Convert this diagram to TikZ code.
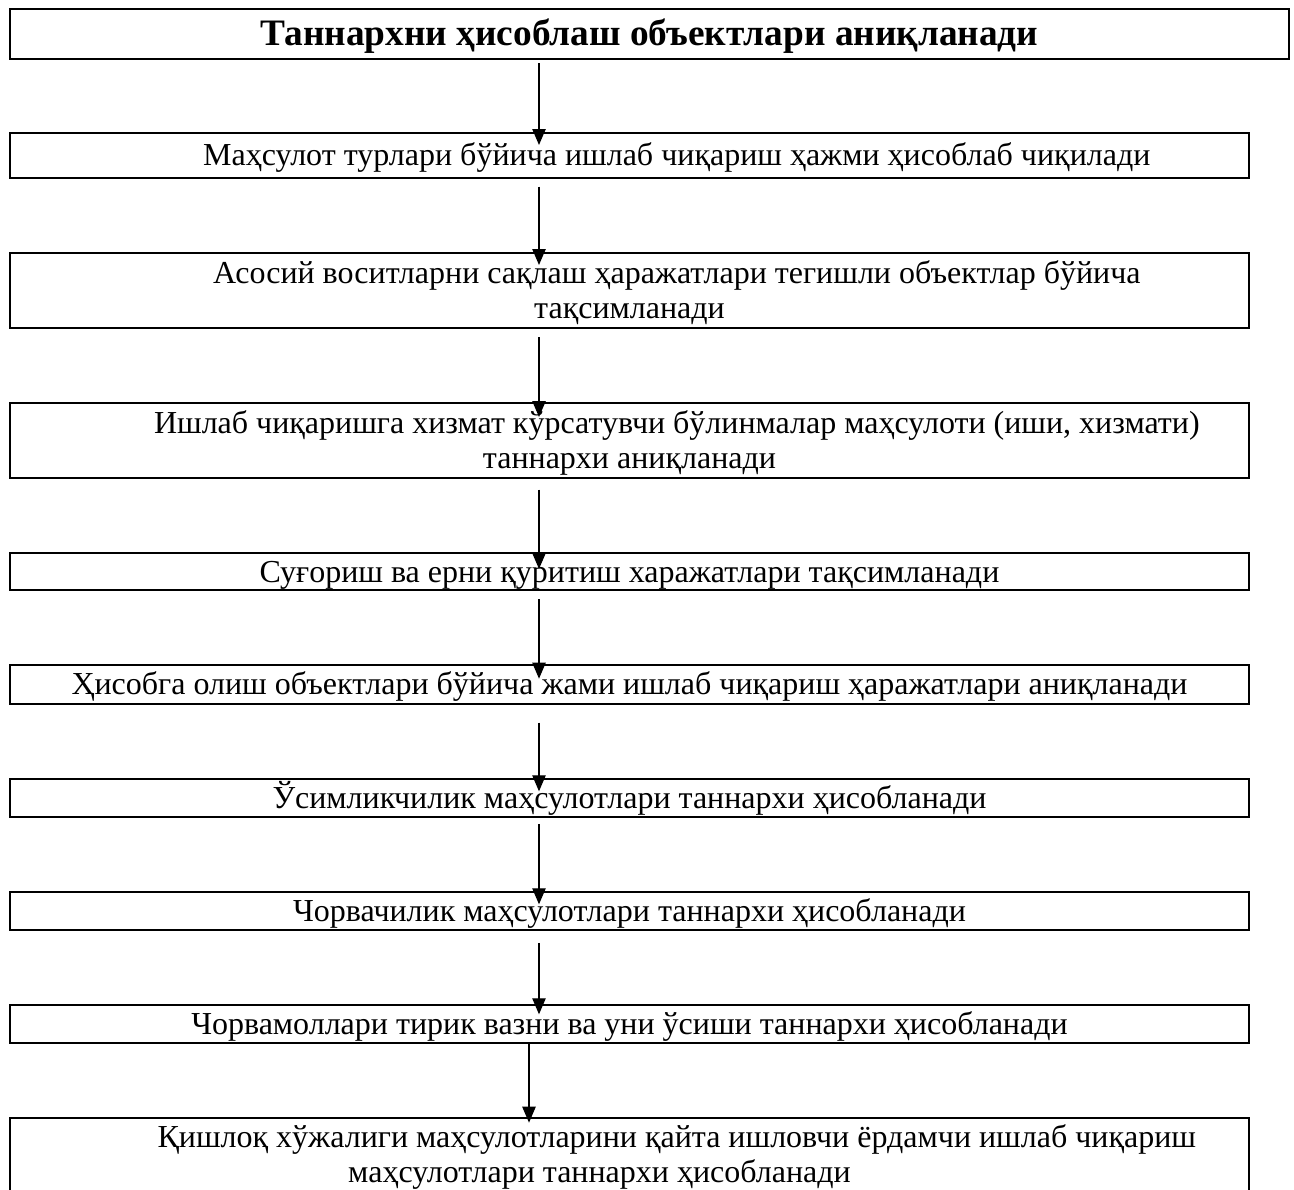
\documentclass[tikz,border=0pt]{standalone}
\usepackage{fontspec}
\setmainfont{Liberation Serif}
\usetikzlibrary{arrows.meta,calc}
\begin{document}
\begin{tikzpicture}[x=0.75pt,y=-0.75pt,
  box/.style={draw,line width=1.5pt,rectangle,inner sep=0pt,outer sep=0pt,anchor=north west,
    font=\fontsize{24pt}{26.25pt}\selectfont,align=center},
  one/.style={text height=15.9pt,text depth=0pt},
  two/.style={text height=42.15pt,text depth=0pt},
  arr/.style={line width=1pt,-{Triangle[length=12pt,width=10pt]}}]
\useasboundingbox (0,0) rectangle (1294,1189);
\node[box,one,minimum width=959.25pt,minimum height=37.5pt,font=\fontsize{28pt}{30pt}\selectfont\bfseries,text height=18.5pt] (b1) at (10,8.5) {Таннархни ҳисоблаш объектлари аниқланади};
\node[box,one,minimum width=929.25pt,minimum height=33.5pt] (b2) at (10,133) {\hspace*{71pt}Маҳсулот турлари бўйича ишлаб чиқариш ҳажми ҳисоблаб чиқилади};
\node[box,two,minimum width=929.25pt,minimum height=56.25pt] (b3) at (10,253) {\hspace*{71pt}Асосий воситларни сақлаш ҳаражатлари тегишли объектлар бўйича\\тақсимланади};
\node[box,two,minimum width=929.25pt,minimum height=56pt] (b4) at (10,403) {\hspace*{71pt}Ишлаб чиқаришга хизмат кўрсатувчи бўлинмалар маҳсулоти (иши, хизмати)\\таннархи аниқланади};
\node[box,one,minimum width=929.25pt,minimum height=28pt] (b5) at (10,553) {Суғориш ва ерни қуритиш харажатлари тақсимланади};
\node[box,one,minimum width=929.25pt,minimum height=29.25pt] (b6) at (10,664.7) {Ҳисобга олиш объектлари бўйича жами ишлаб чиқариш ҳаражатлари аниқланади};
\node[box,one,minimum width=929.25pt,minimum height=28.25pt] (b7) at (10,779.3) {Ўсимликчилик маҳсулотлари таннархи ҳисобланади};
\node[box,one,minimum width=929.25pt,minimum height=28.25pt] (b8) at (10,892.3) {Чорвачилик маҳсулотлари таннархи ҳисобланади};
\node[box,one,minimum width=929.25pt,minimum height=28.25pt] (b9) at (10,1005.3) {Чорвамоллари тирик вазни ва уни ўсиши таннархи ҳисобланади};
\node[box,two,text depth=4pt,minimum width=929.25pt,minimum height=58.5pt] (b10) at (10,1117.7) {\hspace*{71pt}Қишлоқ хўжалиги маҳсулотларини қайта ишловчи ёрдамчи ишлаб чиқариш\\маҳсулотлари таннархи ҳисобланади\hspace*{45pt}};
\coordinate (ax) at (539,0);
\coordinate (ay) at (529,0);
\draw[arr] ($(b1.south -| ax)+(0,4.5)$) -- ($(b2.north -| ax)+(0,12)$);
\draw[arr] ($(b2.south -| ax)+(0,9)$) -- ($(b3.north -| ax)+(0,12)$);
\draw[arr] ($(b3.south -| ax)+(0,9)$) -- ($(b4.north -| ax)+(0,14)$);
\draw[arr] ($(b4.south -| ax)+(0,12)$) -- ($(b5.north -| ax)+(0,16)$);
\draw[arr] ($(b5.south -| ax)+(0,9)$) -- ($(b6.north -| ax)+(0,14)$);
\draw[arr] ($(b6.south -| ax)+(0,19)$) -- ($(b7.north -| ax)+(0,12)$);
\draw[arr] ($(b7.south -| ax)+(0,7)$) -- ($(b8.north -| ax)+(0,12)$);
\draw[arr] ($(b8.south -| ax)+(0,13)$) -- ($(b9.north -| ax)+(0,9)$);
\draw[arr] ($(b9.south -| ay)+(0,1)$) -- ($(b10.north -| ay)+(0,5)$);
\end{tikzpicture}
\end{document}
